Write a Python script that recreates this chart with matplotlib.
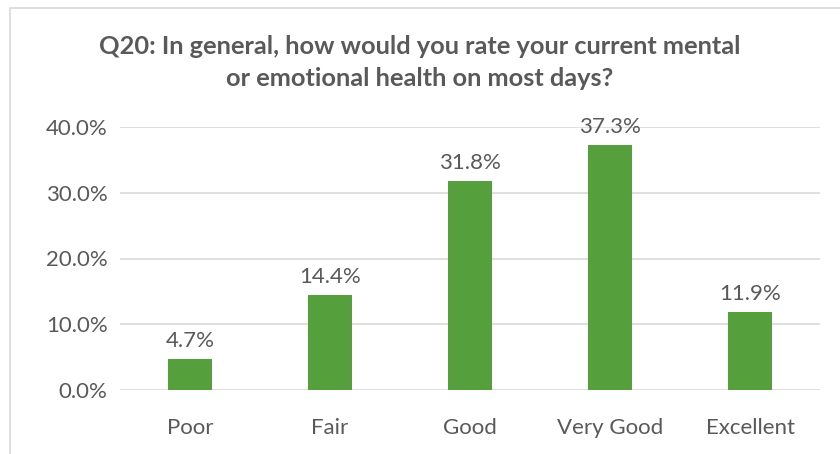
import matplotlib
matplotlib.use("Agg")
import matplotlib.pyplot as plt
from matplotlib.patches import Rectangle

# Survey data
categories = ["Poor", "Fair", "Good", "Very Good", "Excellent"]
values = [4.7, 14.4, 31.8, 37.3, 11.9]
yticks = [0, 10, 20, 30, 40]

text_color = "#595959"
bar_color = "#55A03C"
plt.rcParams["font.family"] = ["Lato", "DejaVu Sans"]

fig = plt.figure(figsize=(8.4, 4.54), dpi=100)
W, H = 840, 454
ax = fig.add_axes([120 / W, 1 - 390 / H, 700 / W, 263 / H])

# chart border (Excel style, runs off the right/bottom edge)
fig.patches.append(Rectangle((10 / W, -0.1), 1.1, 1 - 8 / H + 0.1, transform=fig.transFigure,
                             fill=False, edgecolor="#d9d9d9", linewidth=1.2))

x = range(len(categories))
bars = ax.bar(x, values, width=0.31, color=bar_color, zorder=3)
for xi, v in zip(x, values):
    ax.text(xi, v + 1.2, f"{v:.1f}%", ha="center", va="bottom", fontsize=16, color=text_color)

ax.set_xlim(-0.5, len(categories) - 0.5)
ax.set_ylim(0, 40)
ax.set_yticks(yticks)
ax.set_yticklabels([f"{t:.1f}%" for t in yticks])
ax.set_xticks(list(x))
ax.set_xticklabels(categories)
ax.tick_params(axis="both", length=0, labelsize=16, labelcolor=text_color)
ax.tick_params(axis="x", pad=20)
ax.tick_params(axis="y", pad=9)
ax.grid(axis="y", color="#d9d9d9", linewidth=1.2, zorder=0)
for s in ax.spines.values():
    s.set_visible(False)

fig.text(0.5, 1 - 46 / H, "Q20: In general, how would you rate your current mental",
         ha="center", va="center", fontsize=18.3, fontweight="bold", color=text_color)
fig.text(0.5, 1 - 78 / H, "or emotional health on most days?",
         ha="center", va="center", fontsize=18.3, fontweight="bold", color=text_color)

fig.savefig("out.png", dpi=100)
